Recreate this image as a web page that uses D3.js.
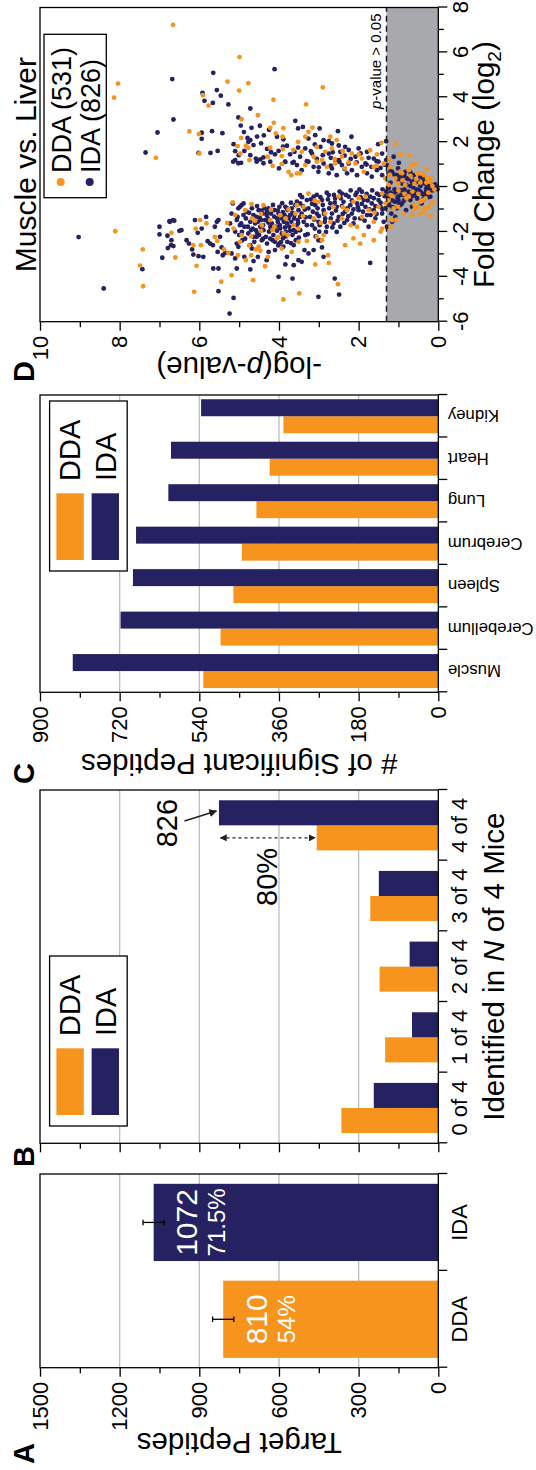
<!DOCTYPE html>
<html>
<head>
<meta charset="utf-8">
<script src="https://cdn.jsdelivr.net/npm/d3@7"></script>
<style>
  html, body { margin: 0; padding: 0; background: #fff; }
  svg { display: block; font-family: "Liberation Sans", Arial, Helvetica, sans-serif; }
</style>
</head>
<body>
<svg id="fig" width="536" height="1470"></svg>
<script>
// ---------------- data ----------------
// A: target peptides per acquisition method
const methods = ["DDA", "IDA"];
const targetPeptides = [810, 1072];
const targetError = [40, 40];
const targetPercent = ["54%", "71.5%"];

// B: peptides identified in N of 4 mice
const miceGroups = ["0 of 4", "1 of 4", "2 of 4", "3 of 4", "4 of 4"];
const miceDDA = [365, 200, 221, 256, 458];
const miceIDA = [243, 99, 108, 224, 826];

// C: significant peptides, each tissue vs. liver
const tissues = ["Muscle", "Cerebellum", "Spleen", "Cerebrum", "Lung", "Heart", "Kidney"];
const sigDDA = [531, 492, 463, 444, 411, 381, 350];
const sigIDA = [826, 718, 690, 683, 610, 604, 536];

// axis ticks
const peptideTicks = [0, 300, 600, 900, 1200, 1500];
const peptideMinor = [150, 450, 750, 1050, 1350];
const significantTicks = [0, 180, 360, 540, 720, 900];
const significantMinor = [90, 270, 450, 630, 810];
const pValueTicks = [0, 2, 4, 6, 8, 10];
const pValueMinor = [1, 3, 5, 7, 9];
const foldTicks = [-6, -4, -2, 0, 2, 4, 6, 8];
const foldMinor = [-5, -3, -1, 1, 3, 5, 7];
const pCutoff = 0.05;

// D: muscle vs. liver volcano, [log2 fold change, -log10 p]
const volcanoIDA = [
  [-2.23,9.03],[-4.52,8.40],[-3.66,7.43],[1.54,7.35],[2.43,7.05],[3.01,6.65],[4.81,6.68],[5.09,5.65],[5.25,4.11],
  [4.20,5.92],[4.32,5.56],[4.07,5.46],[3.84,5.87],[3.75,5.66],[3.68,5.27],[3.50,4.72],[3.10,5.02],[2.74,4.96],
  [2.49,5.68],[2.42,5.94],[2.40,5.42],[2.15,5.94],[2.45,4.88],[2.64,4.69],[2.73,4.48],[2.30,4.38],[2.95,3.59],
  [2.61,3.52],[1.52,6.02],[1.52,5.72],[1.61,5.54],[1.91,5.14],[1.60,5.10],[2.19,4.79],[2.01,4.77],[2.09,4.72],
  [1.87,4.64],[2.24,4.05],[2.13,3.89],[1.84,3.80],[1.42,5.01],[1.61,4.87],[1.42,4.72],[1.27,4.58],[1.23,4.47],
  [1.32,4.39],[1.46,4.10],[1.61,4.01],[1.12,3.84],[1.46,3.72],[1.57,3.61],[1.76,3.52],[1.12,3.63],[1.35,3.47],
  [1.20,5.10],[1.08,4.95],
  [-1.92,6.45],[-1.47,6.66],[-1.77,7.00],[-2.11,7.00],[-2.17,6.80],[-1.52,6.75],[-2.72,6.79],[-3.15,6.93],[-2.59,6.71],
  [-1.55,6.74],[-1.50,6.63],[-1.95,6.50],[-2.37,6.70],[-2.63,6.65],[-2.37,6.32],[-2.52,6.26],[-2.78,6.18],
  [-1.47,6.11],[-2.04,6.04],[-3.01,6.15],[-3.08,6.02],[-3.11,5.90],[-1.85,5.94],[-1.33,5.83],[-2.41,5.79],
  [-2.52,5.73],[-2.59,5.66],[-1.77,5.61],[-1.55,5.56],[-1.47,5.52],[-2.22,5.48],[-2.89,5.54],[-2.69,5.44],
  [-3.04,5.41],[-2.93,5.35],[-1.92,5.29],[-1.62,5.23],[-1.18,5.19],[-0.73,5.16],[-1.99,5.10],[-2.52,5.06],
  [-2.66,5.02],[-0.88,4.98],[-0.81,4.94],[-0.73,4.89],[-1.77,4.87],[-1.40,4.83],[-2.07,4.77],[-2.59,4.72],
  [-2.74,4.68],[-2.22,4.64],[-1.62,4.60],[-1.33,4.56],[-1.03,4.51],[-1.77,4.47],[-2.37,4.43],[-1.92,4.39],
  [-1.47,4.35],[-1.25,4.31],[-0.95,4.26],[-1.77,4.22],[-1.62,4.18],[-2.14,4.14],[-2.44,4.10],[-1.40,4.05],
  [-1.18,4.01],[-1.85,3.97],[-2.07,3.93],[-2.66,3.89],[-0.88,3.84],[-1.62,3.80],[-1.40,3.76],[-1.25,3.72],
  [-0.95,3.68],[-1.92,3.63],[-0.81,3.59],[-1.70,3.55],[-1.03,3.51],[-1.33,3.47],
  [-1.47,5.06],[-1.70,4.98],[-1.25,4.89],[-1.10,4.81],[-1.55,4.72],[-0.95,4.68],[-1.25,4.64],[-1.92,4.58],
  [-1.55,4.53],[-2.14,4.50],[-1.18,4.41],[-0.95,4.36],[-2.22,4.33],[-1.40,4.28],[-1.99,4.25],[-1.18,4.20],
  [-1.03,4.11],[-1.77,4.08],[-1.55,4.03],[-0.88,3.99],[-1.40,3.94],[-2.29,3.90],[-1.25,3.86],[-1.99,3.83],
  [-1.03,3.78],[-1.77,3.74],[-1.55,3.69],[-2.14,3.66],[-1.25,3.61],[-2.37,3.58],[-1.47,3.53],[-1.92,3.49],
  [-2.14,5.00],[-2.37,4.92],[-1.77,4.78],[-1.92,4.70],[-2.44,4.62],[-2.22,4.56],[-1.47,4.45],[-2.52,4.30],
  [-2.37,4.16],[-2.52,3.99],[-2.44,3.79],[-2.59,3.63],
  [-3.63,5.65],[-3.63,5.52],[-3.63,5.06],[-3.67,4.72],[-3.11,4.53],[-3.26,4.31],[-4.00,4.01],[-3.45,3.84],
  [-4.08,3.66],[-4.64,5.52],[-4.94,5.14],[-5.64,5.24],[-3.11,4.87],[-3.18,5.10],[-2.96,5.19],[-3.30,4.64],
  [-2.89,4.26],[-2.81,4.10],[-3.11,3.80],[-3.48,3.63],[-3.26,3.51],
  [1.13,5.15],[1.06,5.02],[1.13,4.56],[1.06,4.39],[1.13,4.22],[0.83,4.00],[1.13,3.85],[1.08,3.66],[0.98,3.55],
  [0.75,3.43],[1.13,3.26],[0.90,3.13],[0.68,3.01],[1.05,2.88],[0.61,2.75],[0.83,2.67],[0.53,2.55],[0.98,2.42],
  [0.61,2.29],[0.75,2.17],[0.53,2.04],[0.90,1.92],[0.61,1.79],[0.46,1.67],[0.75,1.54],[0.53,1.41],[0.98,1.29],
  [0.68,1.16],[0.53,1.04],[0.31,0.91],[0.38,0.78],[0.23,0.66],[0.31,0.53],[0.16,0.41],[0.09,0.28],[0.83,1.01],
  [0.68,0.83],[0.53,0.62],[0.46,0.45],[1.05,2.25],[1.05,1.83],[1.13,1.50],[1.20,2.50],
  [-0.36,3.47],[-0.73,3.47],[-1.18,3.43],[-1.55,3.38],[-1.92,3.47],[-2.14,3.34],[-0.58,3.30],[-0.95,3.26],
  [-1.33,3.22],[-1.70,3.17],[-0.43,3.13],[-0.81,3.09],[-1.18,3.05],[-1.55,3.01],[-1.99,2.99],[-2.37,2.96],
  [-0.58,2.92],[-1.03,2.88],[-1.40,2.84],[-1.77,2.80],[-0.36,2.75],[-0.73,2.71],[-1.18,2.67],[-1.62,2.63],
  [-0.51,2.59],[-0.88,2.55],[-1.33,2.50],[-1.77,2.46],[-0.29,2.42],[-0.66,2.38],[-1.10,2.34],[-1.47,2.29],
  [-0.43,2.25],[-0.81,2.21],[-1.18,2.17],[-1.62,2.13],[-0.36,2.08],[-0.73,2.04],[-1.03,2.00],[-1.40,1.96],
  [-0.21,1.92],[-0.58,1.87],[-0.88,1.83],[-1.25,1.79],[-1.77,1.75],[-0.43,1.71],[-0.73,1.67],[-1.03,1.62],
  [-1.40,1.58],[-0.29,1.54],[-0.58,1.50],[-0.88,1.45],[-1.18,1.41],[-1.55,1.37],[-0.21,1.31],[-0.51,1.26],
  [-0.81,1.23],[-1.18,1.18],[-0.29,1.12],[-0.66,1.08],[-0.95,1.04],[-0.43,1.01],[-0.14,0.95],[-0.73,0.91],
  [-0.36,0.84],[-1.03,0.81],[-0.21,0.74],[-0.58,0.70],[-0.88,0.66],[-0.29,0.59],[-0.51,0.53],[-0.14,0.49],
  [-0.73,0.42],[-0.36,0.36],[-0.21,0.31],[-0.06,0.24],[-0.43,0.20],[-1.55,1.16],[-1.33,1.08],[-1.77,1.29],
  [-2.81,3.36],[-2.96,3.26],[-2.81,3.13],[-2.69,2.92],[-3.33,3.43],[-3.11,2.88],[-2.37,3.01],[-3.38,1.71],
  [-4.08,2.60],[-4.79,2.49],[-4.89,3.01],
  [2.68,3.40],[2.61,2.98],[2.49,2.52],[2.24,2.18],[1.91,1.51],[2.04,1.31],[1.57,1.79],[2.16,3.26],[2.31,3.09],
  [2.09,2.88],[1.94,2.67],[1.79,2.34],[1.49,2.75],[1.57,2.46],[1.35,2.08],[1.72,2.00],[1.27,1.62],[1.49,1.41],
  [1.72,3.34],[1.49,3.17],[1.79,2.96],[1.20,2.59],[1.20,1.31],[1.35,1.12],[1.08,0.99],
  [0.00,0.10],[0.10,0.20],[-0.15,0.15],[-0.05,0.30],[0.05,0.45],[-0.10,0.55],[0.05,0.70],[-0.20,0.85],
  [-0.40,0.65],[-0.60,1.00],[0.20,1.20],[-0.10,1.10],[0.30,0.60],[-0.30,0.40],[0.15,0.90],[-0.50,0.80],
  [-0.25,1.20],[0.40,1.05],[-0.70,1.25],[-0.90,1.15],[0.60,1.25],[0.50,0.85],[-0.45,0.25],[0.25,0.35],[-0.80,0.95],
  // dense core of the down-regulated branch
  [-0.95,5.02],[-1.33,5.04],[-1.62,4.95],[-2.00,4.93],[-2.30,4.85],[-1.15,4.75],[-1.85,4.66],[-2.05,4.55],
  [-0.85,4.55],[-1.38,4.48],[-1.70,4.40],[-2.30,4.40],[-1.05,4.44],[-1.10,4.30],[-1.58,4.27],[-1.90,4.20],
  [-2.30,4.22],[-0.80,4.15],[-1.32,4.12],[-1.95,4.05],[-2.60,4.02],[-1.05,4.03],[-1.70,3.98],[-2.45,3.95],
  [-0.72,3.92],[-1.12,3.90],[-1.55,3.88],[-1.80,3.85],[-2.20,3.83],[-0.95,3.80],[-1.35,3.77],[-1.95,3.72],
  [-2.50,3.70],[-0.70,3.70],[-1.15,3.66],[-1.40,3.62],[-2.00,3.58],[-0.65,3.55],[-1.60,3.52],[-2.25,3.50],
  [-0.45,3.42],[-0.85,3.40],[-1.00,3.35],[-1.35,3.33],[-1.70,3.30],[-2.10,3.28],[-0.55,3.20],[-0.75,3.17],
  [-1.10,3.15],[-1.45,3.12],[-1.85,3.10],[-2.20,3.08],[-0.35,3.05],[-0.95,3.03],[-1.30,3.00],[-1.70,2.98],
  [-0.45,2.96],[-0.80,2.90],[-1.20,2.87],[-1.55,2.85],[-2.00,2.82],[-0.25,2.80],[-0.55,2.77],[-0.95,2.74],
  [-1.40,2.70],[-1.80,2.66],[-0.35,2.62],[-0.70,2.60],[-1.05,2.57],[-1.50,2.53],[-2.00,2.55],[-0.20,2.48],
  [-0.50,2.45],[-0.85,2.42],[-1.20,2.40],[-1.60,2.36],[-0.35,2.32],[-0.95,2.28],[-1.30,2.26],[-0.15,2.20],
  [-0.60,2.17],[-1.00,2.13],[-1.40,2.10],[-0.25,2.05],[-0.90,2.02],[-0.10,1.98],[-0.45,1.95],[-0.75,1.92],
  [-1.10,1.89],[-1.50,1.85],[-0.30,1.80],[-0.60,1.77],[-1.00,1.73],[-1.25,1.70],[-0.15,1.66],[-0.50,1.62],
  [-0.85,1.58],[-1.20,1.55],[-0.35,1.48],[-0.70,1.45],[-1.00,1.40],[-0.10,1.40],[-0.40,1.35],[-0.95,1.33],
  // low-significance wedge
  [-0.05,1.25],[-0.35,1.22],[-0.60,1.15],[-0.20,1.05],[-0.50,1.02],[-0.75,0.98],[-0.35,0.93],[-0.10,0.85],
  [-0.60,0.86],[-0.45,0.75],[-0.25,0.68],[-0.05,0.62],[-0.40,0.55],[-0.20,0.45],[-0.55,0.38],[-0.30,0.28],
  [-0.15,0.22],[0.05,0.18],[0.15,0.32],[0.25,0.50],[0.35,0.75],[0.45,0.95],[0.55,1.10],[0.70,1.20],
  [0.20,0.58],[0.10,0.80],[0.30,1.00],[0.65,0.70],[0.40,0.38],[0.00,0.05],[-0.10,0.02],[0.12,0.08],
  // up-regulated branch
  [1.15,3.30],[1.25,3.05],[1.42,2.90],[1.30,2.70],[1.55,2.65],[1.12,2.48],[1.40,2.35],[1.65,2.25],
  [1.25,2.20],[1.10,2.05],[1.50,1.95],[1.00,1.80],[1.30,1.75],[0.90,1.68],[1.15,1.55],[0.85,1.45],
  [1.00,1.35],[0.80,2.35],[0.95,2.70],[0.88,3.00],[1.60,3.20],[1.90,3.10],[1.85,2.50],[2.05,2.75],
  [1.70,4.30],[1.95,4.45],[2.25,4.55],[2.55,4.25],[1.55,4.20],[1.80,3.90]
];
const volcanoDDA = [
  [7.23,6.66],[5.79,4.99],[4.61,8.04],[3.98,8.14],[4.70,5.29],[4.63,4.77],[4.30,5.00],[4.44,2.90],[3.89,4.14],
  [4.09,5.91],[3.63,5.77],[3.68,3.32],[2.48,6.25],[2.36,6.01],[1.30,7.09],[1.50,6.00],[3.02,4.94],[3.20,4.53],
  [2.86,4.13],[2.62,3.89],[1.94,1.08],
  [-1.97,8.11],[-2.78,7.42],[-3.50,7.49],[-4.42,7.41],
  [2.64,4.22],[2.39,4.08],[2.24,3.91],[1.66,3.64],[2.01,3.52],[1.75,4.22],[1.69,3.90],[2.19,4.95],[1.82,5.04],
  [1.84,4.83],[1.75,4.77],[1.49,4.97],[1.35,4.28],[1.38,3.93],
  [2.65,3.16],[2.24,2.71],[1.97,1.43],[1.46,1.54],[1.45,0.95],[1.42,0.74],[2.24,3.34],[2.46,3.26],[1.79,3.05],
  [1.57,2.84],[1.72,2.67],[1.35,2.42],[1.49,2.17],[1.27,1.92],[1.64,1.71],[1.57,3.43],[1.35,3.13],[2.09,2.55],
  [1.20,2.92],[1.02,0.57],[1.20,1.24],
  [-2.04,6.70],[-3.14,6.60],[-2.59,6.15],[-1.85,6.09],[-3.51,6.07],[-4.67,6.13],[-2.59,5.96],[-1.47,5.98],
  [-1.62,5.82],[-2.22,5.61],[-4.22,5.45],[-2.78,5.38],[-2.93,5.27],[-3.93,5.19],[-1.85,5.14],[-2.44,4.98],
  [-3.04,5.03],[-2.14,4.94],[-3.26,4.83],[-3.04,4.70],[-4.15,4.65],[-2.78,4.58],[-2.66,4.51],[-2.84,4.47],
  [-3.53,4.35],[-3.11,4.28],[-1.92,4.16],[-1.77,4.11],[-2.29,4.05],[-1.25,3.97],[-2.74,3.93],[-5.01,3.89],
  [-1.40,3.83],[-1.00,3.76],[-2.89,3.68],[-1.70,3.63],[-1.18,3.59],[-2.44,3.51],[-4.74,3.49],[-0.81,3.55],
  [-1.03,4.85],[-1.25,5.10],[-0.81,4.39],[-1.40,4.68],[-1.47,4.22],[-2.22,4.01],[-2.14,3.78],[-1.70,4.43],
  [1.20,4.74],[0.94,4.16],[1.02,3.93],[0.68,3.76],[0.53,3.69],[0.61,3.55],
  [0.61,3.47],[0.98,3.34],[1.13,3.05],[0.90,2.80],[1.05,2.59],[0.83,2.34],[1.05,2.08],[0.68,1.87],[0.90,1.62],
  [1.05,1.37],[0.90,1.20],[0.16,1.01],[0.61,0.91],[0.75,0.74],[0.98,0.66],[0.61,0.53],[0.53,0.36],[0.38,1.08],
  [0.09,0.83],[0.38,1.33],[0.38,0.28],[0.23,0.20],
  [-1.85,3.51],[-0.88,3.38],[-0.29,3.26],[-1.40,3.13],[-0.66,3.01],[-1.18,2.84],[-1.55,2.71],[-0.88,2.63],
  [-0.43,2.50],[-1.40,2.42],[-1.03,2.29],[-0.66,2.13],[-1.77,2.04],[-1.33,1.92],[-0.43,1.83],[-1.03,1.75],
  [-1.55,1.62],[-0.88,1.50],[-0.29,1.41],[-0.73,1.33],[-0.36,1.20],[-0.95,1.12],[-0.88,1.01],[-1.18,0.87],
  [-0.43,0.74],[-1.25,0.66],[-0.88,0.53],[-0.66,0.45],[-0.51,0.32],[-0.88,0.24],[-0.95,0.34],[-1.77,1.20],
  [-1.99,1.45],[-2.37,1.62],[-2.14,2.88],[-2.22,3.05],[-2.37,2.92],[-2.29,2.13],[-2.59,2.34],[-2.52,1.96],
  [-2.14,1.87],[-1.85,1.41],[-1.47,1.16],[-4.33,2.52],[-3.04,2.77],[-3.38,2.75],[-3.45,3.09],
  [-0.68,5.16],[-0.76,4.69],
  [0.05,0.15],[-0.10,0.10],[0.20,0.30],[-0.30,0.50],[-0.25,0.25],[0.15,0.60],[-0.50,0.80],[-0.60,0.40],
  [0.40,0.20],[0.30,0.90],[-1.10,0.35],[-1.30,0.20],[0.60,0.45],[-0.15,1.00],[0.80,0.30],[-0.80,0.60],
  [0.10,1.25],[-0.40,1.15],
  [-1.50,4.60],[-1.95,4.45],[-1.00,4.20],[-2.05,3.88],[-1.30,3.40],[-0.60,3.10],[-1.60,2.95],[-2.40,3.30],
  [-0.90,2.40],[-1.70,2.20],[-0.50,2.00],[-1.15,1.60],[-0.60,1.25],[-1.45,1.05],[-0.30,0.85],[-1.00,0.60],
  [-0.70,0.15],[0.35,0.55],[0.50,0.70],[0.70,0.95],[0.55,1.22],[0.20,0.45],[-0.20,0.65],[-1.20,0.45],
  [1.10,2.25],[1.45,2.00],[0.95,1.55],[1.25,2.60],[1.60,2.40],[-2.60,4.75],[-2.20,4.70],[-1.60,5.30],
  [-2.40,5.55],[-1.20,4.45]
];

// ---------------- style ----------------
const ORANGE = "#F7941D", NAVY = "#262262", GRID = "#BCBEC0", BAND = "#A7A9AC";
const STROKE = 1.3;

const svg = d3.select("#fig");
// The figure is laid out landscape (1470 x 536) and turned a quarter turn counter-clockwise.
const fig = svg.append("g").attr("transform", "translate(0,1470) rotate(-90)");

const yTop = 40, yBottom = 438.3;

// ---------------- helpers ----------------
function styleAxis(sel, fontSize) {
  sel.select(".domain").remove();
  sel.selectAll(".tick line").attr("stroke", "#000").attr("stroke-width", STROKE);
  sel.selectAll(".tick text").attr("fill", "#000").style("font-size", fontSize + "px")
     .style("font-family", "'Liberation Sans', Arial, sans-serif");
}

function valueAxis(g, x0, y, majors, minors, labels) {
  g.append("g").attr("transform", `translate(${x0},0)`)
    .call(d3.axisLeft(y).tickValues(minors).tickSize(5.5).tickFormat(""))
    .call(s => styleAxis(s, 22));
  g.append("g").attr("transform", `translate(${x0},0)`)
    .call(d3.axisLeft(y).tickValues(majors).tickSize(9).tickPadding(5)
      .tickFormat(labels ? d => String(d) : ""))
    .call(s => styleAxis(s, 22));
}

function gridlines(g, y, values, x0, x1) {
  g.append("g").selectAll("line").data(values).join("line")
    .attr("x1", x0).attr("x2", x1)
    .attr("y1", d => y(d)).attr("y2", d => y(d))
    .attr("stroke", GRID).attr("stroke-width", 1.3);
}

function frame(g, x0, x1) {
  g.append("rect").attr("x", x0).attr("y", yTop)
    .attr("width", x1 - x0).attr("height", yBottom - yTop)
    .attr("fill", "none").attr("stroke", "#000").attr("stroke-width", STROKE);
}

function categoryBoundaries(g, slot) {
  const n = slot.domain().length;
  const edge = d3.scaleLinear().domain([0, n]).range(slot.range());
  g.append("g").attr("transform", `translate(0,${yBottom})`)
    .call(d3.axisBottom(edge).tickValues(d3.range(n + 1)).tickSize(9).tickFormat(""))
    .call(s => styleAxis(s, 22));
}

function categoryLabels(g, slot, fontSize, baselineOffset) {
  g.append("g").attr("transform", `translate(0,${yBottom})`)
    .call(d3.axisBottom(slot).tickSize(0))
    .call(s => styleAxis(s, fontSize))
    .call(s => s.selectAll(".tick text").attr("y", baselineOffset).attr("dy", 0));
}

function panelLetter(x, text) {
  fig.append("text").attr("x", x).attr("y", 34).text(text)
    .style("font-size", "29px").style("font-weight", "bold");
}

function yTitle(x, yc, build) {
  const t = fig.append("text")
    .attr("transform", `translate(${x},${yc}) rotate(-90)`)
    .attr("text-anchor", "middle").style("font-size", "29.5px");
  build(t);
}

function legendBox(g, x0) {
  g.append("rect").attr("x", x0).attr("y", 49.6).attr("width", 170).attr("height", 77.6)
    .attr("fill", "#fff").attr("stroke", "#000").attr("stroke-width", STROKE);
  [[ORANGE, "DDA", 56.4], [NAVY, "IDA", 91.6]].forEach(([c, label, top]) => {
    g.append("rect").attr("x", x0 + 11).attr("y", top).attr("width", 66.7).attr("height", 27.4)
      .attr("fill", c);
    g.append("text").attr("x", x0 + 90).attr("y", top + 24).text(label)
      .style("font-size", "29px");
  });
}

const yc = (yTop + yBottom) / 2;

// ---------------- Panel A ----------------
{
  const x0 = 102.3, x1 = 296;
  const g = fig.append("g");
  const y = d3.scaleLinear().domain([0, 1500]).range([yBottom, yTop]);
  const slot = d3.scaleBand().domain(methods).range([x0, x1]).padding(0);
  const inner = d3.scaleBand().domain(["bar"]).range([0, slot.bandwidth()]).paddingOuter(0.127);
  const colors = [ORANGE, NAVY];

  gridlines(g, y, peptideTicks.slice(1, -1), x0, x1);
  const bx = d => slot(d) + inner("bar");
  g.selectAll(".barA").data(methods).join("rect")
    .attr("x", d => bx(d)).attr("width", inner.bandwidth())
    .attr("y", (d, i) => y(targetPeptides[i]))
    .attr("height", (d, i) => yBottom - y(targetPeptides[i]))
    .attr("fill", (d, i) => colors[i]);

  // error bars and bar labels
  methods.forEach((m, i) => {
    const cx = bx(m) + inner.bandwidth() / 2;
    const lo = y(targetPeptides[i] - targetError[i]), hi = y(targetPeptides[i] + targetError[i]);
    g.append("line").attr("x1", cx).attr("x2", cx).attr("y1", lo).attr("y2", hi)
      .attr("stroke", "#000").attr("stroke-width", 1.3);
    [lo, hi].forEach(v => g.append("line").attr("x1", cx - 2.8).attr("x2", cx + 2.8)
      .attr("y1", v).attr("y2", v).attr("stroke", "#000").attr("stroke-width", 1.3));
    const top = y(targetPeptides[i]);
    g.append("text").attr("x", cx).attr("y", top + 43.5).attr("text-anchor", "middle")
      .attr("fill", "#fff").style("font-size", "30px").text(targetPeptides[i]);
    g.append("text").attr("x", cx).attr("y", top + 71.5).attr("text-anchor", "middle")
      .attr("fill", "#fff").style("font-size", "24px").text(targetPercent[i]);
  });

  frame(g, x0, x1);
  valueAxis(g, x0, y, peptideTicks, peptideMinor, true);
  categoryBoundaries(g, slot);
  categoryLabels(g, slot, 22, 28.7);
  yTitle(37, yc, t => t.text("Target Peptides"));
  panelLetter(6, "A");
}

// ---------------- Panel B ----------------
{
  const x0 = 326.7, x1 = 680;
  const g = fig.append("g");
  const y = d3.scaleLinear().domain([0, 1500]).range([yBottom, yTop]);
  const slot = d3.scaleBand().domain(miceGroups).range([x0, x1]).padding(0);
  const inner = d3.scaleBand().domain(methods).range([0, slot.bandwidth()])
    .paddingInner(0).paddingOuter(0.41);
  const series = [[ "DDA", miceDDA, ORANGE ], [ "IDA", miceIDA, NAVY ]];

  gridlines(g, y, peptideTicks.slice(1, -1), x0, x1);
  series.forEach(([name, vals, color]) => {
    g.append("g").selectAll("rect").data(miceGroups).join("rect")
      .attr("x", d => slot(d) + inner(name)).attr("width", inner.bandwidth())
      .attr("y", (d, i) => y(vals[i])).attr("height", (d, i) => yBottom - y(vals[i]))
      .attr("fill", color);
  });

  legendBox(g, 344);

  // annotation on the "4 of 4" group
  const last = miceGroups.length - 1;
  const gLast = miceGroups[last];
  const idaTop = y(miceIDA[last]), ddaTop = y(miceDDA[last]);
  const idaX = slot(gLast) + inner("IDA");
  const ddaCx = slot(gLast) + inner("DDA") + inner.bandwidth() / 2;

  const defs = svg.append("defs");
  defs.append("marker").attr("id", "head").attr("viewBox", "0 0 10 10")
    .attr("refX", 9).attr("refY", 5).attr("markerWidth", 8).attr("markerHeight", 8)
    .attr("markerUnits", "userSpaceOnUse").attr("orient", "auto-start-reverse")
    .append("path").attr("d", "M0,0 L10,5 L0,10 z").attr("fill", "#231f20");
  defs.append("marker").attr("id", "headSmall").attr("viewBox", "0 0 10 10")
    .attr("refX", 9).attr("refY", 5).attr("markerWidth", 7).attr("markerHeight", 7)
    .attr("markerUnits", "userSpaceOnUse").attr("orient", "auto-start-reverse")
    .append("path").attr("d", "M0,0 L10,5 L0,10 z").attr("fill", "#231f20");

  g.append("text").attr("x", idaX - 22).attr("y", idaTop - 42)
    .style("font-size", "29px").text(miceIDA[last]);
  g.append("line").attr("x1", idaX + 4.3).attr("y1", idaTop - 34.5)
    .attr("x2", idaX + 14.3).attr("y2", idaTop - 2.5)
    .attr("stroke", "#231f20").attr("stroke-width", 1.4).attr("marker-end", "url(#head)");
  g.append("line").attr("x1", ddaCx).attr("x2", ddaCx)
    .attr("y1", idaTop + 1.5).attr("y2", ddaTop - 1.5)
    .attr("stroke", "#231f20").attr("stroke-width", 1.4).attr("stroke-dasharray", "3,3")
    .attr("marker-start", "url(#headSmall)").attr("marker-end", "url(#headSmall)");
  const pct = Math.round((miceIDA[last] / miceDDA[last] - 1) * 100);
  g.append("text").attr("x", ddaCx - 10).attr("y", (idaTop + ddaTop) / 2 + 9)
    .attr("text-anchor", "end").style("font-size", "29px").text(pct + "%");

  frame(g, x0, x1);
  valueAxis(g, x0, y, peptideTicks, peptideMinor, false);
  categoryBoundaries(g, slot);
  categoryLabels(g, slot, 22, 28.7);
  const t = g.append("text").attr("x", (x0 + x1) / 2).attr("y", 504)
    .attr("text-anchor", "middle").style("font-size", "29.5px");
  t.append("tspan").text("Identified in ");
  t.append("tspan").style("font-style", "italic").text("N");
  t.append("tspan").text(" of 4 Mice");
  panelLetter(303, "B");
}

// ---------------- Panel C ----------------
{
  const x0 = 777.7, x1 = 1075;
  const g = fig.append("g");
  const y = d3.scaleLinear().domain([0, 900]).range([yBottom, yTop]);
  const slot = d3.scaleBand().domain(tissues).range([x0, x1]).padding(0);
  const inner = d3.scaleBand().domain(methods).range([0, slot.bandwidth()])
    .paddingInner(0).paddingOuter(0.25);
  const series = [[ "DDA", sigDDA, ORANGE ], [ "IDA", sigIDA, NAVY ]];

  gridlines(g, y, significantTicks.slice(1, -1), x0, x1);
  series.forEach(([name, vals, color]) => {
    g.append("g").selectAll("rect").data(tissues).join("rect")
      .attr("x", d => slot(d) + inner(name)).attr("width", inner.bandwidth())
      .attr("y", (d, i) => y(vals[i])).attr("height", (d, i) => yBottom - y(vals[i]))
      .attr("fill", color);
  });

  legendBox(g, 899);
  frame(g, x0, x1);
  valueAxis(g, x0, y, significantTicks, significantMinor, true);
  categoryBoundaries(g, slot);
  g.append("g").attr("transform", `translate(0,${yBottom})`)
    .call(d3.axisBottom(slot).tickSize(0))
    .call(s => styleAxis(s, 16.8))
    .call(s => s.selectAll(".tick text")
      .attr("transform", "rotate(-90)").attr("x", -9.5).attr("y", 0).attr("dy", "0.36em")
      .style("text-anchor", "end"));
  yTitle(716, yc, t => t.text("# of Significant Peptides"));
  panelLetter(686, "C");
}

// ---------------- Panel D ----------------
{
  const x0 = 1148.3, x1 = 1462.5;
  const g = fig.append("g");
  const x = d3.scaleLinear().domain([-6, 8]).range([x0, x1]);
  const y = d3.scaleLinear().domain([0, 10]).range([yBottom, yTop]);
  const cut = -Math.log10(pCutoff);

  g.append("rect").attr("x", x0).attr("width", x1 - x0)
    .attr("y", y(cut)).attr("height", yBottom - y(cut)).attr("fill", BAND);

  g.append("g").selectAll("circle").data(volcanoIDA).join("circle")
    .attr("cx", d => x(d[0])).attr("cy", d => y(d[1])).attr("r", 2.4).attr("fill", NAVY);
  g.append("g").selectAll("circle").data(volcanoDDA).join("circle")
    .attr("cx", d => x(d[0])).attr("cy", d => y(d[1])).attr("r", 2.4).attr("fill", ORANGE);

  g.append("line").attr("x1", x0).attr("x2", x1).attr("y1", y(cut)).attr("y2", y(cut))
    .attr("stroke", "#231f20").attr("stroke-width", 1.5).attr("stroke-dasharray", "6,4");
  const note = g.append("text").attr("x", x1 - 6).attr("y", y(cut) - 5)
    .attr("text-anchor", "end").style("font-size", "15px");
  note.append("tspan").style("font-style", "italic").text("p");
  note.append("tspan").text("-value > " + pCutoff.toFixed(2));

  // legend
  g.append("rect").attr("x", 1272.3).attr("y", 44).attr("width", 163.4).attr("height", 62.3)
    .attr("fill", "#fff").attr("stroke", "#000").attr("stroke-width", STROKE);
  [[ORANGE, "DDA (531)", 60.7], [NAVY, "IDA (826)", 89.7]].forEach(([c, label, cy]) => {
    g.append("circle").attr("cx", 1288).attr("cy", cy).attr("r", 4).attr("fill", c);
    g.append("text").attr("x", 1297).attr("y", cy + 10).style("font-size", "27px").text(label);
  });

  frame(g, x0, x1);
  valueAxis(g, x0, y, pValueTicks, pValueMinor, true);
  g.append("g").attr("transform", `translate(0,${yBottom})`)
    .call(d3.axisBottom(x).tickValues(foldMinor).tickSize(5.5).tickFormat(""))
    .call(s => styleAxis(s, 22));
  g.append("g").attr("transform", `translate(0,${yBottom})`)
    .call(d3.axisBottom(x).tickValues(foldTicks).tickSize(9).tickFormat(d => String(d)))
    .call(s => styleAxis(s, 22))
    .call(s => s.selectAll(".tick text").attr("y", 29.7).attr("dy", 0));

  g.append("text").attr("x", (x0 + x1) / 2).attr("y", 35.5).attr("text-anchor", "middle")
    .style("font-size", "30px").text("Muscle vs. Liver");
  const ft = g.append("text").attr("x", (x0 + x1) / 2).attr("y", 494)
    .attr("text-anchor", "middle").style("font-size", "29.5px");
  ft.append("tspan").text("Fold Change (log");
  ft.append("tspan").attr("dy", 7).style("font-size", "19px").text("2");
  ft.append("tspan").attr("dy", -7).text(")");

  yTitle(1113, yc, t => {
    t.append("tspan").text("-log(");
    t.append("tspan").style("font-style", "italic").text("p");
    t.append("tspan").text("-value)");
  });
  panelLetter(1088, "D");
}
</script>
</body>
</html>
